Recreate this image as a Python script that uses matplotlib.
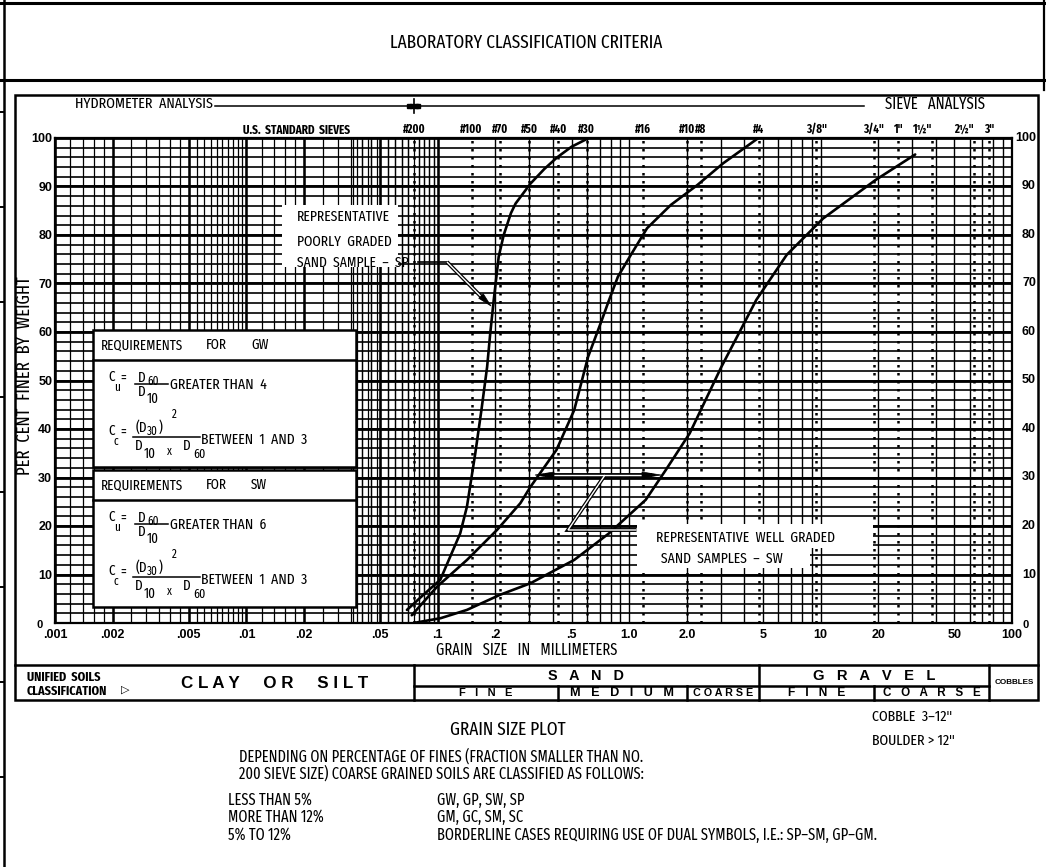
import matplotlib
matplotlib.use("Agg")
import os
import numpy as np
import matplotlib.pyplot as plt
from matplotlib import font_manager
from matplotlib.font_manager import FontProperties
from matplotlib.patches import Rectangle, Polygon
from matplotlib.lines import Line2D
from matplotlib.transforms import Affine2D, blended_transform_factory

# ---------------- data ----------------
sp_size = [0.069, 0.084, 0.103, 0.131, 0.142, 0.157, 0.169, 0.181, 0.188, 0.196,
           0.208, 0.221, 0.241, 0.255, 0.305, 0.36, 0.42, 0.5, 0.615]
sp_pct = [2.7, 5.8, 8.9, 18.5, 24.0, 35.0, 43.9, 52.8, 59.8, 66.6,
          75.5, 80.0, 84.5, 86.5, 90.6, 93.6, 96.0, 98.2, 100.0]

swf_size = [0.0731, 0.0992, 0.142, 0.204, 0.27, 0.304, 0.417, 0.516, 0.61, 0.72,
            0.785, 0.873, 1.02, 1.24, 1.65, 2.27, 3.1, 4.73]
swf_pct = [1.6, 7.5, 13.0, 19.2, 24.7, 28.0, 35.7, 43.9, 54.9, 62.5,
           66.6, 71.4, 75.9, 81.4, 86.2, 90.3, 94.8, 100.0]

swc_size = [0.0748, 0.1036, 0.142, 0.211, 0.305, 0.516, 0.785, 1.22, 1.55, 2.07,
            3.03, 4.61, 6.65, 10.3, 19.3, 31.2]
swc_pct = [0.0, 1.0, 2.7, 5.8, 8.2, 13.0, 18.5, 25.4, 31.5, 39.1,
           52.8, 66.6, 75.9, 83.4, 91.3, 96.6]

sieve_labels = ['#200', '#100', '#70', '#50', '#40', '#30', '#16', '#10', '#8', '#4',
                '3/8"', '3/4"', '1"', '1\u00bd"', '2\u00bd"', '3"']
sieve_sizes = [0.075, 0.15, 0.212, 0.3, 0.425, 0.6, 1.18, 2.0, 2.36, 4.75,
               9.5, 19.0, 25.4, 38.1, 63.5, 76.2]

x_tick_values = [0.001, 0.002, 0.005, 0.01, 0.02, 0.05, 0.1, 0.2, 0.5, 1.0, 2.0, 5, 10, 20, 50, 100]
x_tick_labels = ['.001', '.002', '.005', '.01', '.02', '.05', '.1', '.2', '.5', '1.0', '2.0',
                 '5', '10', '20', '50', '100']
y_tick_values = [10, 20, 30, 40, 50, 60, 70, 80, 90, 100]

# soil classification band boundaries (mm)
class_bounds = [0.075, 0.425, 2.0, 4.75, 19.0, 76.2]

notes_left = ['LESS THAN 5%', 'MORE THAN 12%', '5% TO 12%']
notes_right = ['GW, GP, SW, SP', 'GM, GC, SM, SC',
               'BORDERLINE CASES REQUIRING USE OF DUAL SYMBOLS, I.E.: SP\u2013SM, GP\u2013GM.']


# ---------------- fonts ----------------
def find_font(bold=False):
    bad = ('italic', 'oblique', 'light', 'thin', 'medium', 'black', 'semi', 'heavy', 'extrabold')
    best = None
    for f in font_manager.fontManager.ttflist:
        stem = os.path.basename(f.fname).lower().replace(' ', '').rsplit('.', 1)[0]
        if 'extracondensed' in stem:
            score = 3
            rest = stem.replace('extracondensed', '')
        elif 'condensed' in stem or 'narrow' in stem:
            score = 2
            rest = stem.replace('semicondensed', 'semi').replace('condensed', '').replace('narrow', '')
        else:
            continue
        if any(b in rest for b in bad):
            continue
        isbold = 'bold' in rest
        if isbold != bold:
            continue
        if 'noto' in stem:
            score += 0.5
        if best is None or score > best[0]:
            best = (score, f.fname)
    return best[1] if best else None


COND = find_font(False)
CONDB = find_font(True)


def nfp(size, bold=False):
    path = CONDB if bold else COND
    if path:
        fp = FontProperties(fname=path)
    else:
        fp = FontProperties(family='Liberation Sans', weight='bold' if bold else 'normal')
    fp.set_size(size)
    return fp


BF = ['Liberation Sans', 'DejaVu Sans']

W, H = 1046, 867
fig = plt.figure(figsize=(W / 100, H / 100), dpi=100)
fig.patch.set_facecolor('white')
PX = Affine2D().scale(1.0 / W, -1.0 / H).translate(0, 1) + fig.transFigure
renderer = fig.canvas.get_renderer()

X0, X1, Y100, Y0 = 55, 1012, 138, 623
ax = fig.add_axes([X0 / W, 1 - Y0 / H, (X1 - X0) / W, (Y0 - Y100) / H])
ax.set_xscale('log')
ax.set_xlim(0.001, 100)
ax.set_ylim(0, 100)
ax.set_facecolor('white')
for s in ax.spines.values():
    s.set_linewidth(1.6)

# ---------------- grid ----------------
hy_mult = [1, 1.2, 1.4, 1.6, 1.8, 2, 2.5, 3, 3.5, 4, 4.5, 5, 5.5, 6, 6.5, 7, 7.5, 8, 8.5, 9, 9.5]
hy_lines = [m * 10.0 ** k for k in (-3, -2) for m in hy_mult]
hy_lines += [0.036, 0.038, 0.04, 0.043, 0.045, 0.048, 0.05, 0.055, 0.06, 0.065, 0.07,
             0.08, 0.085, 0.09, 0.095]
hy_major = [m * 10.0 ** k for k in (-3, -2) for m in (1, 2, 5)] + [0.1]
ax.vlines(hy_lines, 0, 100, color='black', lw=0.9, zorder=1)
ax.vlines(hy_major, 0, 100, color='black', lw=1.8, zorder=1)
sv_lines = [m * 10.0 ** k for k in (-1, 0, 1) for m in range(1, 10)]
ax.vlines(sv_lines, 0, 100, color='black', lw=1.0, zorder=1)
ax.vlines(sieve_sizes, 0, 100, color='black', lw=1.8, linestyles=(0, (1, 2.2)), zorder=1)
ax.hlines(np.arange(0, 101, 2), 0.001, 100, color='black', lw=1.2, zorder=1)
ax.hlines(np.arange(0, 101, 10), 0.001, 100, color='black', lw=2.0, zorder=1)

# ---------------- curves ----------------
for xs, ys in ((sp_size, sp_pct), (swf_size, swf_pct), (swc_size, swc_pct)):
    ax.plot(xs, ys, color='black', lw=1.9, zorder=3, solid_capstyle='round')

# ---------------- ticks ----------------
ax.set_xticks(x_tick_values)
ax.set_xticklabels(x_tick_labels, fontfamily=BF, fontweight='bold', fontsize=9)
ax.xaxis.set_minor_locator(matplotlib.ticker.NullLocator())
ax.tick_params(axis='x', length=0, pad=4)
ax.set_yticks(y_tick_values)
ax.set_yticklabels([str(v) for v in y_tick_values], fontfamily=BF, fontweight='bold', fontsize=9)
ax.tick_params(axis='y', length=0, pad=2)
ytr = blended_transform_factory(PX, ax.transData)
for v in y_tick_values:
    ax.text(1036, v, str(v), transform=ytr, ha='right', va='center', fontsize=9,
            fontfamily=BF, fontweight='bold')
fig.text(40, 625, '0', transform=PX, ha='center', va='center', fontsize=8, family=BF, weight='bold')
fig.text(1026, 625, '0', transform=PX, ha='center', va='center', fontsize=8, family=BF, weight='bold')


def T(x, y, s, size=9, ha='left', va='center', width=None, rotation=0, z=6, bold=False,
      transform=None, cap=None):
    t = fig.text(x, y, s, transform=transform or PX, ha=ha, va=va,
                 fontproperties=nfp(size, bold), rotation=rotation, zorder=z)
    if width:
        bb = t.get_window_extent(renderer)
        cur = bb.height if rotation else bb.width
        if cur > 0:
            new = size * width / cur
            if cap:
                new = min(new, cap)
            t.set_fontsize(new)
    return t


def B(x, y, s, size=8, ha='center', va='center', transform=None, width=None):
    t = fig.text(x, y, s, transform=transform or PX, ha=ha, va=va, fontsize=size,
                 family=BF, weight='bold', zorder=6)
    if width:
        bb = t.get_window_extent(renderer)
        if bb.width > 0:
            t.set_fontsize(size * width / bb.width)
    return t


def L(xs, ys, lw=1.5, color='black', z=4, **kw):
    fig.add_artist(Line2D(xs, ys, transform=PX, color=color, lw=lw, zorder=z, **kw))


def R(x0, y0, x1, y1, fc='white', ec='none', lw=0, z=2):
    fig.add_artist(Rectangle((x0, y0), x1 - x0, y1 - y0, transform=PX, facecolor=fc,
                             edgecolor=ec, lw=lw, zorder=z))


# ---------------- page frame ----------------
L([0, W], [3, 3], lw=2.2)
L([0, W], [80, 80], lw=2.2)
L([4, 4], [0, H], lw=1.8)
L([1044, 1044], [0, 90], lw=1.6)
for yy in (111.7, 206.7, 301.7, 396.7, 491.7, 586.7, 681.7, 776.7):
    L([0, 4], [yy, yy], lw=1.4)
T(526, 43, 'LABORATORY CLASSIFICATION CRITERIA', size=11, ha='center', width=282, cap=13.5)

# plot frame and header
R(15, 95, 1038, 700, fc='none', ec='black', lw=1.8, z=4)
th = T(75, 104, 'HYDROMETER  ANALYSIS', size=9.5, width=138, cap=11)
T(985, 104, 'SIEVE   ANALYSIS', size=9.5, ha='right', width=115, cap=th.get_fontsize() * 1.05)
L([215, 864], [105.5, 105.5], lw=1.1)
xb = blended_transform_factory(ax.transData, PX)
fig.add_artist(Line2D([sieve_sizes[0]] * 2, [99, 113], transform=xb, color='black', lw=1.2))
fig.add_artist(Line2D([0.071, 0.073, 0.077, 0.079], [105.5] * 4, transform=xb, color='black',
                      ls='none', marker='s', ms=2.2))
T(297, 130, 'U.S.  STANDARD  SIEVES', size=8, ha='center', width=107, bold=True, cap=9)
sieve_ha = ['center'] * 13 + ['right', 'right', 'center']
for s, v, h in zip(sieve_labels, sieve_sizes, sieve_ha):
    T(v, 129, s, size=8.5, ha=h, transform=xb, bold=True)

T(25, 376, 'PER  CENT  FINER  BY  WEIGHT', size=10.5, ha='center', rotation=90, width=212, cap=13)
T(527, 650, 'GRAIN   SIZE   IN   MILLIMETERS', size=10, ha='center', width=180, cap=11.5)

# ---------------- classification band ----------------
L([15, 1038], [665, 665], lw=1.8)
fig.add_artist(Line2D([class_bounds[0], class_bounds[-1]], [686, 686], transform=xb,
                      color='black', lw=1.8, zorder=4))
for i, b in enumerate(class_bounds):
    top = 665 if i in (0, 3, 5) else 686
    fig.add_artist(Line2D([b, b], [top, 700], transform=xb, color='black', lw=1.8, zorder=4))
tu = T(27, 677, 'UNIFIED  SOILS', size=8.5, width=83, bold=True, cap=9.5)
T(27, 691, 'CLASSIFICATION', size=tu.get_fontsize(), bold=True)
fig.text(125, 690, '\u25b7', transform=PX, ha='center', va='center', fontsize=8,
         family='DejaVu Sans', weight='bold', zorder=6)
B(275, 684, 'C L A Y     O R     S I L T', size=9, width=187)


def gmid(a, b):
    return np.sqrt(a * b)


B(gmid(class_bounds[0], class_bounds[3]), 676, 'S   A   N   D', size=8.5, transform=xb, width=75)
B(gmid(class_bounds[3], class_bounds[5]), 676, 'G   R   A   V   E   L', size=8.5,
  transform=xb, width=121)
sub_names = ['F   I   N   E', 'M   E   D   I   U   M', 'C O A R S E', 'F   I   N   E',
             'C   O   A   R   S   E']
sub_w = [53, 104, 60, 57, 97]
for i, (nm, wd) in enumerate(zip(sub_names, sub_w)):
    B(gmid(class_bounds[i], class_bounds[i + 1]), 693.5, nm, size=6.5, transform=xb, width=wd)
B(1014, 683, 'COBBLES', size=5, width=40)

# ---------------- bottom notes ----------------
T(508, 730, 'GRAIN SIZE PLOT', size=10.5, ha='center', width=128, cap=13.5)
tc = T(872, 717, 'COBBLE  3\u201312"', size=9.5, width=80, cap=11)
T(872, 741, 'BOULDER > 12"', size=tc.get_fontsize())
t0 = T(239, 757, 'DEPENDING ON PERCENTAGE OF FINES (FRACTION SMALLER THAN NO.', size=9.5,
       width=402, cap=13.2)
ns = t0.get_fontsize()
T(239, 774, '200 SIEVE SIZE) COARSE GRAINED SOILS ARE CLASSIFIED AS FOLLOWS:', size=ns)
for i, (a, b) in enumerate(zip(notes_left, notes_right)):
    T(228, 800 + 17.5 * i, a, size=ns)
    T(437, 800 + 17.5 * i, b, size=ns)

# ---------------- requirements boxes ----------------
for off, sym, lim in ((0, 'GW', '4'), (140, 'SW', '6')):
    y0 = 330 + off
    R(92.7, y0, 356, y0 + 137, fc='white', ec='black', lw=1.8, z=2)
    L([92.7, 356], [y0 + 29.5, y0 + 29.5], lw=1.8)
    tr = T(101, y0 + 15, 'REQUIREMENTS', size=11, width=82, cap=12)
    fs = tr.get_fontsize()
    T(206, y0 + 15, 'FOR', size=fs)
    T(251, y0 + 15, sym, size=fs)
    # Cu
    T(108, y0 + 47, 'C', size=fs)
    T(114, y0 + 57, 'u', size=fs * 0.85)
    T(120, y0 + 49, '=', size=fs)
    T(138, y0 + 48, 'D', size=fs)
    T(147, y0 + 51, '60', size=fs * 0.85)
    L([135, 168], [y0 + 53.5, y0 + 53.5], lw=1.1)
    T(138, y0 + 62, 'D', size=fs)
    T(147, y0 + 69, '10', size=fs)
    T(170, y0 + 55, 'GREATER THAN  ' + lim, size=fs, width=97, cap=fs * 1.1)
    # Cc
    T(108, y0 + 101, 'C', size=fs)
    T(114, y0 + 111, 'c', size=fs * 0.85)
    T(120, y0 + 103, '=', size=fs)
    T(136, y0 + 97, '(D', size=fs)
    T(147, y0 + 101, '30', size=fs * 0.85)
    T(159, y0 + 97, ')', size=fs)
    T(172, y0 + 84, '2', size=fs * 0.85)
    L([133, 200], [y0 + 106.5, y0 + 106.5], lw=1.1)
    T(135, y0 + 116, 'D', size=fs)
    T(144, y0 + 124, '10', size=fs)
    T(167, y0 + 121, 'x', size=fs * 0.85)
    T(183, y0 + 116, 'D', size=fs)
    T(193, y0 + 124, '60', size=fs * 0.9)
    T(201, y0 + 110, 'BETWEEN  1  AND  3', size=fs, width=107, cap=fs * 1.1)

# ---------------- annotations ----------------
R(281.7, 205, 398.3, 266.7)
ta = T(297, 217, 'REPRESENTATIVE', size=10, width=92, cap=11.5)
T(297, 242, 'POORLY  GRADED', size=ta.get_fontsize())
T(297, 263, 'SAND  SAMPLE  \u2013  SP', size=ta.get_fontsize())


def hollow(xs, ys, outer=2.8, inner=1.0):
    L(xs, ys, lw=outer, z=4, solid_joinstyle='miter', solid_capstyle='butt')
    L(xs, ys, lw=inner, color='white', z=5, solid_joinstyle='miter', solid_capstyle='butt')


def head(tip, base, w=3.2):
    tx, ty = tip
    bx, by = base
    d = np.array([tx - bx, ty - by], float)
    d /= np.hypot(*d)
    n = np.array([-d[1], d[0]])
    p1 = np.array(base) + n * w
    p2 = np.array(base) - n * w
    fig.add_artist(Polygon([tip, tuple(p1), tuple(p2)], closed=True, transform=PX,
                           facecolor='black', edgecolor='black', lw=0.5, zorder=6))


L([418, 447], [262, 262], lw=1.2)
hollow([447, 484], [262, 299.5])
head((491, 306), (481, 296))

R(636.5, 524, 872.8, 548.3)
R(636.5, 548.3, 809.8, 568.3)
tb = T(656, 538, 'REPRESENTATIVE  WELL  GRADED', size=10, width=178, cap=11.5)
T(661, 559, 'SAND  SAMPLES  \u2013  SW', size=tb.get_fontsize())
hollow([636.5, 568, 605], [530, 530, 475])
hollow([545, 652], [475, 475])
head((535, 475), (554, 475), w=3.0)
head((661, 475), (642, 475), w=3.0)

fig.savefig('out.png', dpi=100, facecolor='white')
